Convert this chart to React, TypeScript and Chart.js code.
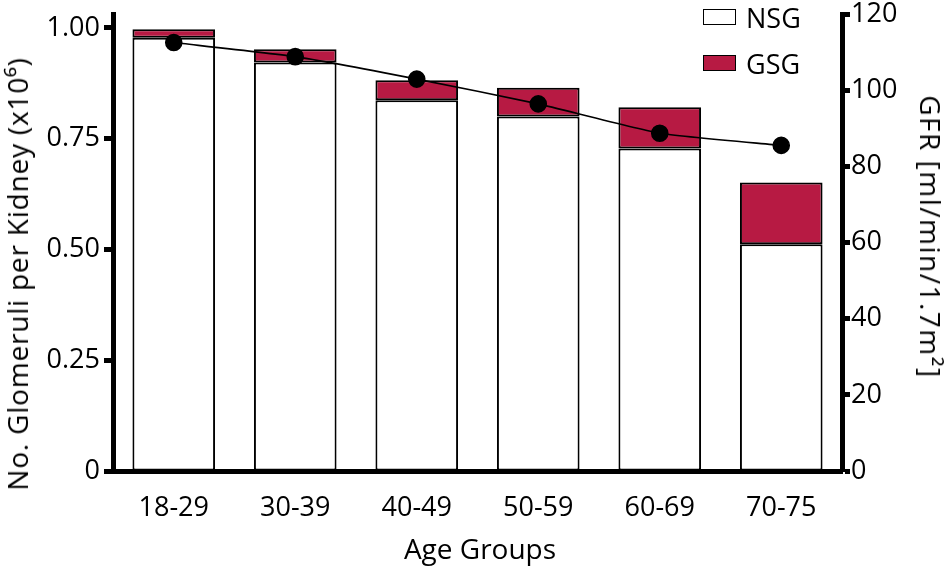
import React, { useRef, useEffect } from 'react';
import { Chart, registerables } from 'chart.js';

Chart.register(...registerables);

// data
const ageGroups = ['18-29', '30-39', '40-49', '50-59', '60-69', '70-75'];
const nsgValues = [0.978, 0.922, 0.837, 0.8, 0.728, 0.512];
const gsgValues = [0.019, 0.03, 0.045, 0.065, 0.093, 0.139];
const gfrValues = [112.5, 108.8, 102.9, 96.4, 88.7, 85.5];
const leftTicks = [0, 0.25, 0.5, 0.75, 1.0];
const rightTicks = [0, 20, 40, 60, 80, 100, 120];

const FONT = "'Open Sans', sans-serif";
const GSG_RED = '#B71A43';

const App: React.FC = () => {
  const chartRef = useRef<HTMLCanvasElement | null>(null);
  const chartInstance = useRef<Chart | null>(null);

  useEffect(() => {
    document.body.style.margin = '0';
    if (!chartRef.current) return;
    if (chartInstance.current) chartInstance.current.destroy();

    const ctx = chartRef.current.getContext('2d');
    if (!ctx) return;

    chartInstance.current = new Chart(ctx, {
      type: 'bar',
      data: {
        labels: ageGroups,
        datasets: [
          {
            type: 'line',
            label: 'GFR',
            data: gfrValues,
            yAxisID: 'y1',
            borderColor: '#000',
            borderWidth: 1.6,
            pointRadius: 8,
            pointBackgroundColor: '#000',
            pointBorderColor: '#000',
            tension: 0.15,
            order: 0,
          },
          {
            label: 'NSG',
            data: nsgValues,
            yAxisID: 'y',
            backgroundColor: '#fff',
            borderColor: '#000',
            borderWidth: 2,
            borderSkipped: false,
            order: 1,
          },
          {
            label: 'GSG',
            data: gsgValues,
            yAxisID: 'y',
            backgroundColor: GSG_RED,
            borderColor: '#000',
            borderWidth: 2,
            borderSkipped: false,
            order: 1,
          },
        ],
      },
      options: {
        responsive: true,
        maintainAspectRatio: false,
        animation: false,
        layout: { padding: { top: 14, left: 0, right: 0, bottom: 0 } },
        datasets: {
          bar: { categoryPercentage: 1, barPercentage: 0.68 },
        },
        plugins: {
          legend: { display: false },
          tooltip: { enabled: false },
        },
        scales: {
          x: {
            stacked: true,
            grid: { display: false },
            border: { display: true, color: '#000', width: 5 },
            ticks: {
              color: '#000',
              padding: 13,
              font: { family: FONT, size: 27 },
            },
            afterFit: (s: any) => {
              s.height = 96;
              s.paddingLeft = 0;
              s.paddingRight = 0;
            },
          },
          y: {
            stacked: true,
            position: 'left',
            min: 0,
            max: 1.0316,
            grid: {
              drawOnChartArea: false,
              tickLength: 9,
              tickWidth: 5,
              tickColor: '#000',
            },
            border: { display: true, color: '#000', width: 5 },
            afterBuildTicks: (s: any) => {
              s.ticks = leftTicks.map((v) => ({ value: v }));
            },
            ticks: {
              color: '#000',
              padding: 4,
              font: { family: FONT, size: 27 },
              callback: (v: any) => (Number(v) === 0 ? '0' : Number(v).toFixed(2)),
            },
            afterFit: (s: any) => {
              s.width = 113;
              s.paddingTop = 0;
              s.paddingBottom = 0;
            },
          },
          y1: {
            position: 'right',
            min: 0,
            max: 120,
            grid: {
              drawOnChartArea: false,
              tickLength: 8,
              tickWidth: 5,
              tickColor: '#000',
            },
            border: { display: true, color: '#000', width: 5 },
            afterBuildTicks: (s: any) => {
              s.ticks = rightTicks.map((v) => ({ value: v }));
            },
            ticks: {
              color: '#000',
              padding: 1,
              font: { family: FONT, size: 27 },
            },
            afterFit: (s: any) => {
              s.width = 108;
              s.paddingTop = 0;
              s.paddingBottom = 0;
            },
          },
        },
      },
    });

    return () => {
      if (chartInstance.current) {
        chartInstance.current.destroy();
        chartInstance.current = null;
      }
    };
  }, []);

  const textStyle: React.CSSProperties = {
    position: 'absolute',
    fontFamily: FONT,
    color: '#000',
    whiteSpace: 'nowrap',
    lineHeight: 1,
  };

  const legendItems = [
    { label: 'NSG', fill: '#fff', top: 9 },
    { label: 'GSG', fill: GSG_RED, top: 55 },
  ];

  return (
    <div style={{ position: 'fixed', left: 0, top: 0, width: 950, height: 567, background: '#fff' }}>
      <canvas ref={chartRef} />
      {/* axis titles */}
      <div
        style={{
          ...textStyle,
          fontSize: 28,
          letterSpacing: 0.8,
          left: 17,
          top: 274,
          transform: 'translate(-50%, -50%) rotate(-90deg)',
        }}
      >
        No. Glomeruli per Kidney (x10⁶)
      </div>
      <div
        style={{
          ...textStyle,
          fontSize: 28,
          letterSpacing: 1.5,
          left: 931,
          top: 237,
          transform: 'translate(-50%, -50%) rotate(90deg)',
        }}
      >
        GFR [ml/min/1.7m²]
      </div>
      <div
        style={{
          ...textStyle,
          fontSize: 28,
          left: 480,
          top: 548,
          transform: 'translate(-50%, -50%)',
        }}
      >
        Age Groups
      </div>
      {/* legend */}
      {legendItems.map((it) => (
        <div key={it.label}>
          <div
            style={{
              position: 'absolute',
              left: 703,
              top: it.top,
              width: 31,
              height: 14,
              background: it.fill,
              border: '1.5px solid #000',
            }}
          />
          <div style={{ ...textStyle, fontSize: 27, left: 746, top: it.top + 8, transform: 'translateY(-50%)' }}>
            {it.label}
          </div>
        </div>
      ))}
    </div>
  );
};

export default App;
